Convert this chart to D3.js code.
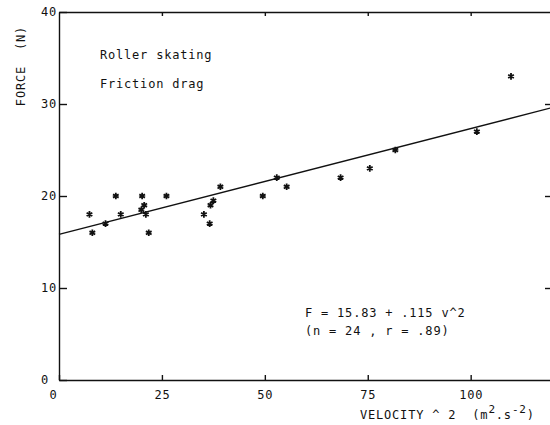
<!DOCTYPE html>
<html>
<head>
<meta charset="utf-8">
<script src="https://cdn.jsdelivr.net/npm/d3@7"></script>
<style>
  body { margin: 0; background: #fff; }
  svg text { font-family: "DejaVu Sans Mono", monospace; font-size: 12px; letter-spacing: 0.8px; fill: #111; white-space: pre; }
</style>
</head>
<body>
<svg width="550" height="425"></svg>
<script>
// velocity^2 (m2.s-2) and drag force (N)
var v2 = [7.4, 8.1, 11.3, 13.8, 15.0, 20.2, 20.7, 20.0, 21.1, 21.8, 26.1,
          39.2, 37.5, 36.8, 35.2, 36.6, 49.5, 52.9, 55.3, 68.4, 75.5, 81.7, 101.5, 109.8];
var force = [18, 16, 17, 20, 18, 20, 19, 18.5, 18, 16, 20,
             21, 19.5, 19, 18, 17, 20, 22, 21, 22, 23, 25, 27, 33];
var xTicks = [0, 25, 50, 75, 100];
var yTicks = [0, 10, 20, 30, 40];
var intercept = 15.83, slope = 0.115;

var margin = {top: 12, right: -3, bottom: 45, left: 59};
var width = 550, height = 425;

var svg = d3.select('svg');

var xScale = d3.scaleLinear()
  .domain([0, 120])
  .range([margin.left, width - margin.right]);
var yScale = d3.scaleLinear()
  .domain([0, 40])
  .range([height - margin.bottom, margin.top]);

// axes, ticks all pointing into the plot
var xAxis = d3.axisBottom(xScale).tickValues(xTicks).tickSizeInner(-5).tickSizeOuter(0).tickPadding(10);
var yAxis = d3.axisLeft(yScale).tickValues(yTicks).tickSizeInner(-8).tickSizeOuter(0).tickPadding(2);
var topAxis = d3.axisBottom(xScale).tickValues(xTicks.slice(1)).tickSizeInner(4).tickSizeOuter(0).tickFormat('');
var rightAxis = d3.axisRight(yScale).tickValues(yTicks.slice(1, 4)).tickSizeInner(-8).tickSizeOuter(0).tickFormat('');

var gx = svg.append('g')
  .attr('transform', 'translate(' + [0, yScale(0)] + ')')
  .call(xAxis);
var gy = svg.append('g')
  .attr('transform', 'translate(' + [margin.left, 0] + ')')
  .call(yAxis);
svg.append('g')
  .attr('transform', 'translate(' + [0, yScale(40)] + ')')
  .call(topAxis);
svg.append('g')
  .attr('transform', 'translate(' + [xScale(120), 0] + ')')
  .call(rightAxis);

svg.selectAll('.domain, .tick line').attr('stroke', '#111').attr('stroke-width', 1.4);
svg.selectAll('.tick text').attr('font-family', null).attr('font-size', null);

// the zero labels sit a bit off the tick
gx.selectAll('.tick text').filter(d => d === 0).attr('dx', -6);
gy.selectAll('.tick text').filter(d => d === 0).attr('dx', -8);

// regression line
var line = d3.line()
  .x(d => xScale(d))
  .y(d => yScale(intercept + slope * d));
svg.append('path')
  .datum([0, 120])
  .attr('d', line)
  .attr('fill', 'none')
  .attr('stroke', '#111')
  .attr('stroke-width', 1.3);

// points
var star = d3.symbol(d3.symbolAsterisk, 30);
svg.selectAll('.pt')
  .data(v2)
  .enter().append('path')
  .attr('class', 'pt')
  .attr('d', star)
  .attr('transform', (d, i) => 'translate(' + [xScale(d), yScale(force[i])] + ')')
  .attr('fill', 'none')
  .attr('stroke', '#111')
  .attr('stroke-width', 1.8);

// labels
svg.append('text').attr('x', 100).attr('y', 59).text('Roller skating');
svg.append('text').attr('x', 100).attr('y', 88).text('Friction drag');
svg.append('text').attr('x', 305).attr('y', 317).text('F = 15.83 + .115 v^2');
svg.append('text').attr('x', 305).attr('y', 335).text('(n = 24 , r = .89)');

svg.append('text')
  .attr('transform', 'translate(25,66) rotate(-90)')
  .attr('text-anchor', 'middle')
  .text('FORCE  (N)');

var xl = svg.append('text').attr('x', 360).attr('y', 419);
xl.append('tspan').text('VELOCITY ^ 2  (m');
xl.append('tspan').attr('dy', -6).attr('font-size', 11).text('2');
xl.append('tspan').attr('dy', 6).text('.s');
xl.append('tspan').attr('dy', -6).attr('font-size', 11).text('-2');
xl.append('tspan').attr('dy', 6).text(')');
</script>
</body>
</html>
